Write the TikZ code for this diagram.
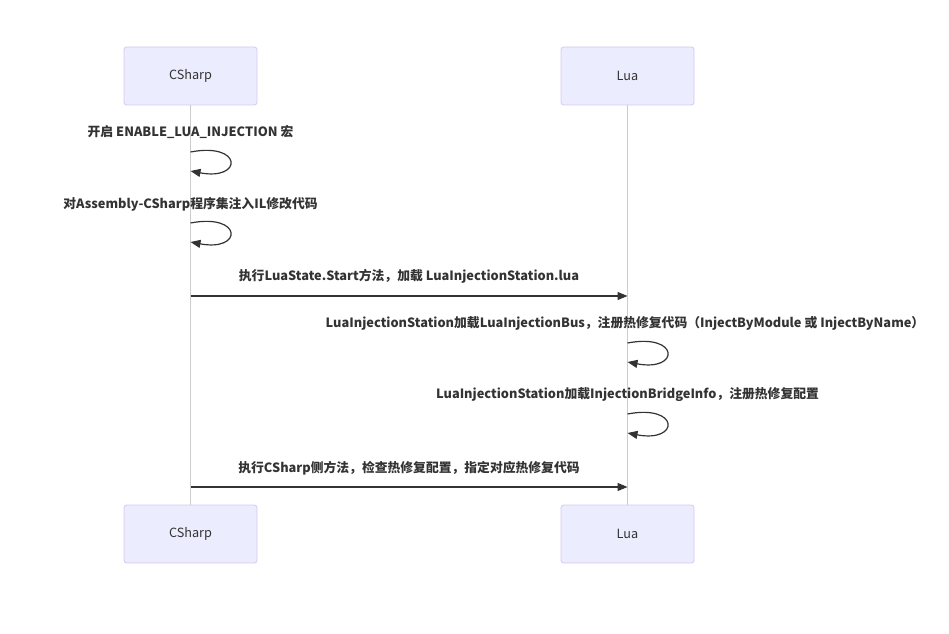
\documentclass[tikz,border=0pt]{standalone}
\usepackage{fontspec}
\setmainfont{Noto Sans CJK SC}
\usetikzlibrary{arrows.meta}
\definecolor{actfill}{HTML}{ECECFF}
\definecolor{actdraw}{HTML}{D4C8F0}
\definecolor{txt}{HTML}{333333}
\definecolor{lifeline}{HTML}{CCCCCC}
\newcommand{\actlbl}[1]{\raisebox{-1.5pt}{#1}}
\begin{document}
\begin{tikzpicture}[x=0.75pt,y=-0.75pt,
  actor/.style={draw=actdraw,fill=actfill,rounded corners=2pt,minimum width=133*0.75pt,minimum height=58*0.75pt,inner sep=0pt,font=\fontsize{9.5pt}{11pt}\selectfont,text=txt,line width=0.6pt},
  msg/.style={font=\fontsize{9.6pt}{11pt}\selectfont\bfseries,text=txt,inner sep=0pt},
  arr/.style={draw=txt,line width=0.9pt,-{Triangle[length=7.5pt,width=6pt]}},
  life/.style={draw=lifeline,line width=0.6pt}]
\useasboundingbox (0,0) rectangle (949,634);
\node[actor] (ct) at (190.5,76) {\actlbl{CSharp}};
\node[actor] (lt) at (627.5,76) {\actlbl{Lua}};
\node[actor] (cb) at (190.5,534) {\actlbl{CSharp}};
\node[actor] (lb) at (627.5,534) {\actlbl{Lua}};
\draw[life] (ct.south) -- (cb.north);
\draw[life] (lt.south) -- (lb.north);
% message 1
\node[msg] (m1) at (190.5,132) {开启 ENABLE\_LUA\_INJECTION 宏};
\coordinate (a1) at (190.5,152);
\coordinate (b1) at (190.5,171);
\draw[arr] (a1) .. controls (243,142) and (243,181) .. (b1);
% message 2
\node[msg] (m2) at (190.5,204) {对Assembly-CSharp程序集注入IL修改代码};
\coordinate (a2) at (190.5,223);
\coordinate (b2) at (190.5,242);
\draw[arr] (a2) .. controls (243,213) and (243,252) .. (b2);
% message 3
\node[msg] (m3) at (409,276) {执行LuaState.Start方法，加载 LuaInjectionStation.lua};
\coordinate (s3) at (190.5,296);
\coordinate (e3) at (627.5,296);
\draw[arr] (s3) -- (e3);
% message 4
\node[msg] (m4) at (625,323) {LuaInjectionStation加载LuaInjectionBus，注册热修复代码（InjectByModule 或 InjectByName）};
\coordinate (a4) at (627.5,343);
\coordinate (b4) at (627.5,362);
\draw[arr] (a4) .. controls (680,333) and (680,372) .. (b4);
% message 5
\node[msg] (m5) at (627.5,395) {LuaInjectionStation加载InjectionBridgeInfo，注册热修复配置};
\coordinate (a5) at (627.5,414);
\coordinate (b5) at (627.5,433);
\draw[arr] (a5) .. controls (680,404) and (680,443) .. (b5);
% message 6
\node[msg] (m6) at (409,468) {执行CSharp侧方法，检查热修复配置，指定对应热修复代码};
\coordinate (s6) at (190.5,487);
\coordinate (e6) at (627.5,487);
\draw[arr] (s6) -- (e6);
\end{tikzpicture}
\end{document}
